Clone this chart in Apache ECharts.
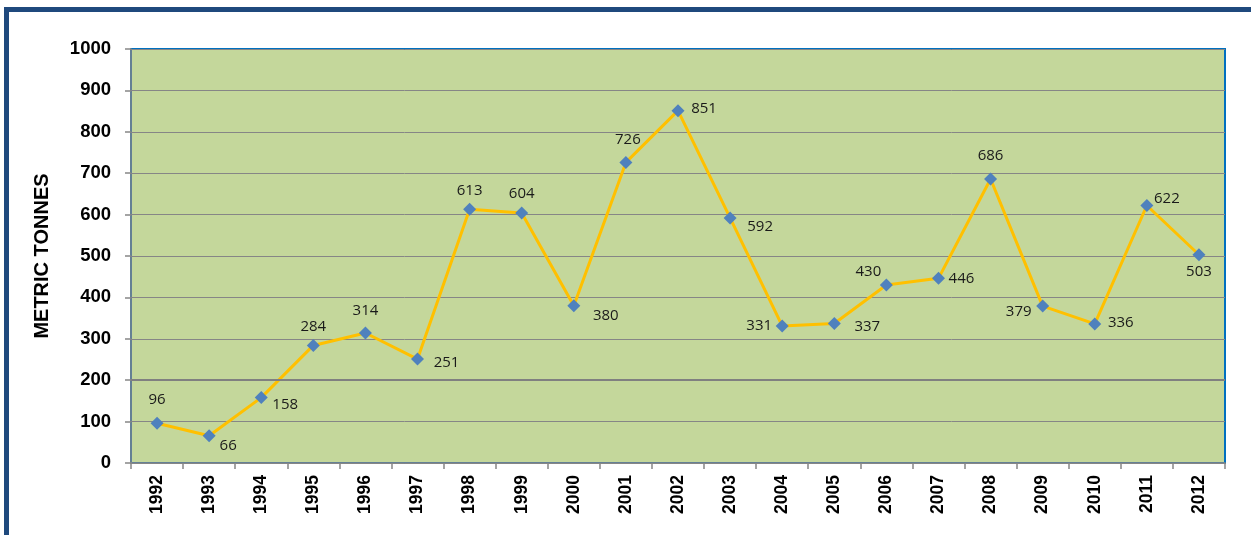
<!DOCTYPE html>
<html>
<head>
<meta charset="utf-8">
<script src="https://cdn.jsdelivr.net/npm/echarts@6/dist/echarts.min.js"></script>
<style>
html,body{margin:0;padding:0;background:#fff;}
#c{width:1251px;height:535px;}
</style>
</head>
<body>
<div id="c"></div>
<script>
var years = ['1992','1993','1994','1995','1996','1997','1998','1999','2000','2001','2002','2003','2004','2005','2006','2007','2008','2009','2010','2011','2012'];
var tonnes = [96,66,158,284,314,251,613,604,380,726,851,592,331,337,430,446,686,379,336,622,503];
var yTicks = {min:0, max:1000, interval:100};
// label offsets [dx, dy] from the marker centre
var labelOffsets = [[0,-24],[19,10],[24,7],[0,-19],[0,-22],[29,4],[0,-18],[0,-19],[32,10],[2,-23],[26,-2],[30,9],[-23,0],[33,3],[-18,-13],[23,0],[0,-23],[-24,6],[26,-1],[20,-7],[0,17]];

var chart = echarts.init(document.getElementById('c'));
var data = tonnes.map(function(v,i){
  return {value:v, label:{position:'inside', offset:labelOffsets[i]}};
});
chart.setOption({
  animation:false,
  graphic:[{type:'rect', shape:{x:6.5,y:9.5,width:1400,height:700}, style:{fill:'none', stroke:'#1f497d', lineWidth:5}, silent:true}],
  grid:{left:131, right:26, top:49, bottom:72, show:true, backgroundColor:'#c4d79b', borderColor:'#0070c0', borderWidth:2},
  xAxis:{
    type:'category', data:years,
    axisLine:{lineStyle:{color:'#868686', width:1.5}},
    axisTick:{show:true, length:6, lineStyle:{color:'#868686', width:1.5}},
    axisLabel:{rotate:90, margin:12, color:'#000', fontWeight:'bold', fontSize:17.5, fontFamily:'Liberation Sans'}
  },
  yAxis:{
    type:'value', min:yTicks.min, max:yTicks.max, interval:yTicks.interval,
    name:'METRIC TONNES', nameLocation:'middle', nameGap:79,
    nameTextStyle:{color:'#000', fontWeight:'bold', fontSize:20, fontFamily:'Liberation Sans'},
    axisLine:{show:true, lineStyle:{color:'#868686', width:1.5}},
    axisTick:{show:true, length:6, lineStyle:{color:'#868686', width:1.5}},
    splitLine:{lineStyle:{color:'#868686', width:1}},
    axisLabel:{margin:20, color:'#000', fontWeight:'bold', fontSize:18.5, fontFamily:'Liberation Sans', formatter:function(v){return String(v);}}
  },
  series:[{
    type:'line', data:data,
    lineStyle:{color:'#ffc000', width:3},
    symbol:'diamond', symbolSize:13,
    itemStyle:{color:'#4f81bd'},
    label:{show:true, color:'#1a1a1a', fontSize:15, fontFamily:'Open Sans'},
    markLine:{silent:true, symbol:'none', label:{show:false}, lineStyle:{color:'#808080', width:2, type:'solid'}, data:[{yAxis:200}]},
    z:3
  }]
});
</script>
</body>
</html>
